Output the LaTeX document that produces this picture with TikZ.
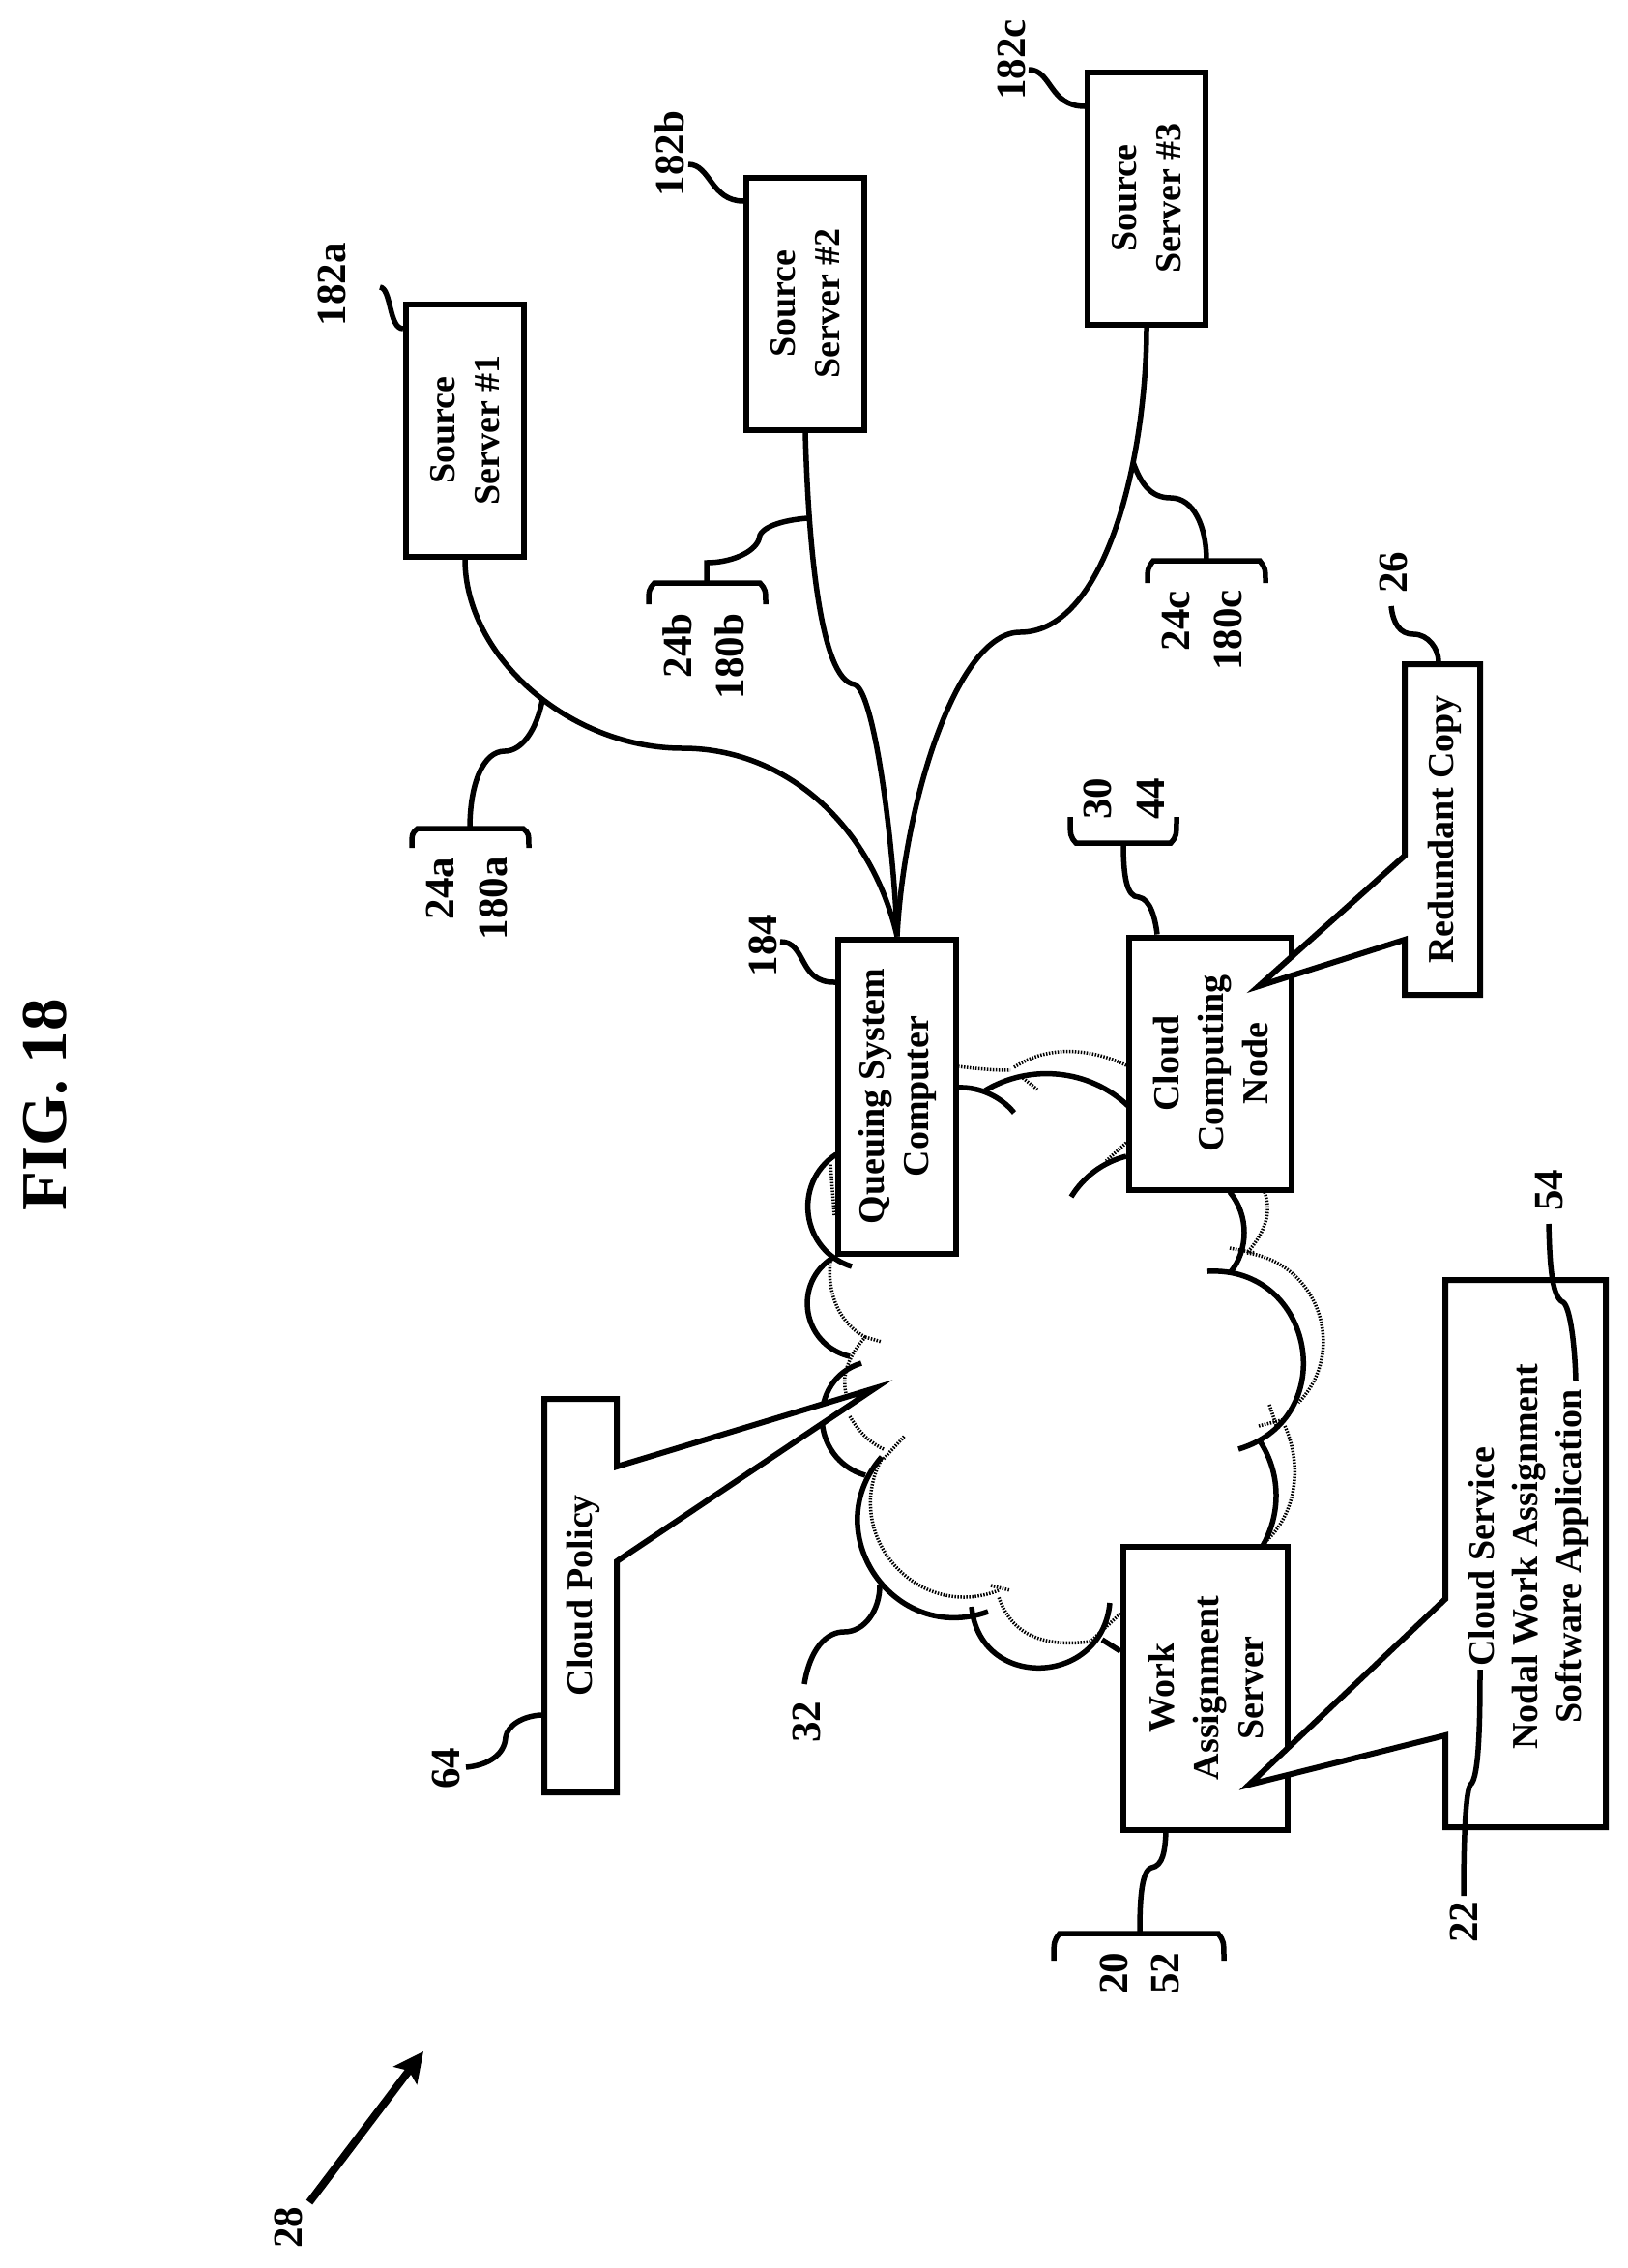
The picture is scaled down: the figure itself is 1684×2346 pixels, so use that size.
\documentclass[tikz,border=0pt]{standalone}
\usepackage{fontspec}
\setmainfont{Liberation Serif}
\usetikzlibrary{arrows.meta}

\tikzstyle{every node}=[align=center]
\tikzstyle{box}=[draw=black,fill=white,line width=6pt,rotate=90,inner sep=0pt,font=\fontsize{38}{46}\selectfont\bfseries]
\tikzstyle{srcbox}=[box,minimum width=261pt,minimum height=122pt]
\tikzstyle{txt}=[rotate=90,inner sep=0pt,font=\fontsize{38}{45}\selectfont\bfseries]
\tikzstyle{num}=[rotate=90,inner sep=0pt,font=\fontsize{43}{46}\selectfont\bfseries]
\tikzstyle{lead}=[line width=5.5pt]
\tikzstyle{talk}=[draw=black,fill=white,line width=6pt,miter limit=20]
\tikzstyle{puff}=[line width=5.5pt]
\tikzstyle{shade}=[line width=3.5pt,dash pattern=on 1.5pt off 1.5pt]

\begin{document}
\begin{tikzpicture}[x=1pt,y=-1pt]
  \useasboundingbox (0,0) rectangle (1684,2346);

  \draw[shade] (991,1103) .. controls (1015,1106) and (1030,1107) .. (1045,1107);
  \draw[shade] (1049,1104) .. controls (1085,1080) and (1130,1085) .. (1165,1102);
  \draw[shade] (1058,1115) -- (1073,1127);
  \draw[shade] (1308,1233) .. controls (1316,1255) and (1308,1275) .. (1290,1296);
  \draw[shade] (1290,1296) .. controls (1364,1307) and (1395,1397) .. (1343,1451);
  \draw[shade] (1272,1291) -- (1298,1296);
  \draw[shade] (1329,1475) .. controls (1345,1510) and (1345,1560) .. (1310,1594);
  \draw[shade] (1313,1453) -- (1321,1477);
  \draw[shade] (1302,1475) -- (1329,1468);
  \draw[shade] (1159,1669) -- (1128,1698);
  \draw[shade] (1128,1698) .. controls (1070,1705) and (1045,1685) .. (1033,1652);
  \draw[shade] (1025,1640) -- (1045,1645);
  \draw[shade] (1033,1645) .. controls (949,1678) and (870,1588) .. (912,1509);
  \draw[shade] (914,1509) -- (936,1485);
  \draw[shade] (914,1499) .. controls (895,1490) and (885,1475) .. (879,1465);
  \draw[shade] (875,1441) .. controls (870,1420) and (880,1400) .. (895,1383);
  \draw[shade] (895,1383) -- (912,1388);
  \draw[shade] (895,1383) .. controls (870,1370) and (855,1340) .. (859,1305);
  \draw[shade] (863,1257) -- (859,1204);
  \draw[shade] (1165,1182) -- (1144,1201);

  \draw[puff] (991,1125) .. controls (1013,1124) and (1035,1134) .. (1049,1151);
  \draw[puff] (1019,1128) .. controls (1066,1100) and (1127,1106) .. (1167,1144);
  \draw[puff] (1165,1196) .. controls (1141,1202) and (1121,1217) .. (1108,1238);
  \draw[puff] (1272,1233) .. controls (1292,1257) and (1292,1293) .. (1272,1317);
  \draw[puff] (1249,1315) .. controls (1360,1309) and (1388,1467) .. (1281,1499);
  \draw[puff] (1304,1492) .. controls (1325,1525) and (1325,1566) .. (1306,1599);
  \draw[puff] (1159,1708) -- (1140,1696);
  \draw[puff] (1148,1658) .. controls (1140,1745) and (1013,1749) .. (1005,1662);
  \draw[puff] (1022,1667) .. controls (925,1702) and (844,1585) .. (912,1507);
  \draw[puff] (895,1526) .. controls (837,1509) and (835,1427) .. (891,1410);
  \draw[puff] (879,1403) .. controls (829,1391) and (819,1326) .. (863,1300);
  \draw[puff] (881,1310) .. controls (829,1294) and (819,1224) .. (865,1194);

  \node[srcbox] (source1) at (481,445) {Source \\ Server \#1};
  \node[srcbox] (source2) at (833,314) {Source \\ Server \#2};
  \node[srcbox] (source3) at (1186,205) {Source \\ Server \#3};
  \node[box,minimum width=325pt,minimum height=122pt] (queuing) at (928,1134) {Queuing System \\ Computer};
  \node[box,minimum width=261pt,minimum height=168pt] (cloudnode) at (1252,1100) {Cloud \\ Computing \\ Node};
  \node[box,minimum width=293pt,minimum height=170pt] (workserver) at (1247,1746) {Work \\ Assignment \\ Server};

  \draw[talk] (1453,687) -- (1531,687) -- (1531,1029) -- (1453,1029) -- (1453,972) -- (1302,1020) -- (1453,885) -- cycle;
  \draw[talk] (563,1447) -- (638,1447) -- (638,1517) -- (905,1436) -- (638,1615) -- (638,1854) -- (563,1854) -- cycle;
  \draw[talk] (1495,1324) -- (1661,1324) -- (1661,1890) -- (1495,1890) -- (1495,1795) -- (1292,1846) -- (1495,1654) -- cycle;

  \node[txt] (copytext) at (1494,858) {Redundant Copy};
  \node[txt] (policytext) at (603,1650) {Cloud Policy};
  \node[txt] (servicetext) at (1581,1610) {Cloud Service \\ Nodal Work Assignment \\ Software Application};

  \node[rotate=90,inner sep=0pt,font=\fontsize{67}{70}\selectfont\bfseries] (figtitle) at (47,1143) {FIG. 18};
  \node[num] (n182a) at (343,294) {182a};
  \node[num] (n182b) at (693,159) {182b};
  \node[num] (n182c) at (1046,62) {182c};
  \node[num] (n24a) at (455,919) {24a};
  \node[num] (n180a) at (510,929) {180a};
  \node[num] (n24b) at (701,668) {24b};
  \node[num] (n180b) at (755,679) {180b};
  \node[num] (n24c) at (1216,642) {24c};
  \node[num] (n180c) at (1270,652) {180c};
  \node[num] (n30) at (1135,826) {30};
  \node[num] (n44) at (1190,826) {44};
  \node[num] (n184) at (789,978) {184};
  \node[num] (n26) at (1441,592) {26};
  \node[num] (n54) at (1603,1231) {54};
  \node[num] (n22) at (1514,1988) {22};
  \node[num] (n20) at (1152,2041) {20};
  \node[num] (n52) at (1205,2041) {52};
  \node[num] (n64) at (461,1829) {64};
  \node[num] (n32) at (834,1781) {32};
  \node[num] (n28) at (298,2304) {28};

  \coordinate (mida) at (706,774);
  \coordinate (midb) at (884,708);
  \coordinate (midc) at (1055,654);
  \draw[lead] (source1.west) .. controls (481,680) and (590,774) .. (mida) .. controls (810,774) and (900,850) .. (queuing.east);
  \draw[lead] (source2.west) .. controls (836,560) and (848,704) .. (midb) .. controls (905,715) and (925,880) .. (queuing.east);
  \draw[lead] (source3.west) .. controls (1186,470) and (1145,654) .. (midc) .. controls (990,654) and (935,830) .. (queuing.east);

  \coordinate (tapa) at (561,724);
  \coordinate (tapb) at (835,536);
  \coordinate (tapc) at (1172,478);
  \coordinate (bracea) at (486,857);
  \coordinate (braceb) at (731,603);
  \coordinate (bracec) at (1248,580);
  \coordinate (braced) at (1162,872);
  \coordinate (bracee) at (1179,2000);
  \draw[lead] (426,877) .. controls (426,862) .. (432,857) -- (541,857) .. controls (547,862) .. (547,877);
  \draw[lead] (671,625) .. controls (671,610) .. (677,603) -- (786,603) .. controls (792,610) .. (792,625);
  \draw[lead] (1187,603) .. controls (1187,588) .. (1193,580) -- (1303,580) .. controls (1309,588) .. (1309,603);
  \draw[lead] (1107,845) .. controls (1107,865) .. (1113,872) -- (1211,872) .. controls (1217,865) .. (1217,845);
  \draw[lead] (1090,2028) .. controls (1090,2008) .. (1096,2000) -- (1260,2000) .. controls (1266,2008) .. (1266,2028);

  \draw[lead] (tapa) .. controls (555,755) and (540,777) .. (522,777) .. controls (500,777) and (486,810) .. (bracea);
  \draw[lead] (tapb) .. controls (810,538) and (785,545) .. (785,558) .. controls (780,572) and (755,582) .. (731,582) -- (braceb);
  \draw[lead] (tapc) .. controls (1180,500) and (1190,515) .. (1211,515) .. controls (1235,515) and (1248,545) .. (bracec);
  \draw[lead] (braced) .. controls (1162,905) and (1165,928) .. (1178,928) .. controls (1190,930) and (1195,950) .. ([xshift=-55pt]cloudnode.east);
  \draw[lead] ([xshift=-41pt]workserver.west) .. controls (1205,1915) and (1203,1930) .. (1191,1932) .. controls (1180,1935) and (1179,1970) .. (bracee);

  \coordinate (wirea) at (393,297);
  \coordinate (wireb) at (712,170);
  \coordinate (wirec) at (1064,72);
  \coordinate (wired) at (807,974);
  \draw[lead] (wirea) .. controls (405,298) and (402,340) .. ([yshift=105pt]source1.north);
  \draw[lead] (wireb) .. controls (735,170) and (735,208) .. ([yshift=106pt]source2.north);
  \draw[lead] (wirec) .. controls (1088,72) and (1085,110) .. ([yshift=95pt]source3.north);
  \draw[lead] (wired) .. controls (835,974) and (825,1017) .. ([yshift=118pt]queuing.north);

  \coordinate (wiree) at (1439,627);
  \coordinate (copytop) at (1488,684);
  \draw[lead] (wiree) .. controls (1441,645) and (1448,656) .. (1462,656) .. controls (1478,656) and (1488,672) .. (copytop);
  \coordinate (wiref) at (482,1828);
  \coordinate (policyleft) at (560,1774);
  \draw[lead] (wiref) .. controls (505,1826) and (522,1815) .. (523,1797) .. controls (525,1785) and (540,1775) .. (policyleft);
  \coordinate (wireg) at (1602,1266);
  \coordinate (wireh) at (1630,1428);
  \draw[lead] (wireg) .. controls (1603,1300) and (1604,1342) .. (1617,1347) .. controls (1624,1352) and (1629,1390) .. (wireh);
  \coordinate (wirei) at (1531,1727);
  \coordinate (wirej) at (1514,1961);
  \draw[lead] (wirei) .. controls (1531,1780) and (1530,1840) .. (1521,1846) .. controls (1515,1855) and (1514,1920) .. (wirej);
  \coordinate (wirek) at (832,1742);
  \coordinate (wirel) at (910,1640);
  \draw[lead] (wirek) .. controls (838,1705) and (855,1688) .. (873,1688) .. controls (895,1688) and (910,1665) .. (wirel);

  \coordinate (arrowstart) at (320,2278);
  \coordinate (arrowtip) at (438,2122);
  \draw[line width=8pt,-{Stealth[length=31pt,width=30pt,inset=6pt]}] (arrowstart) -- (arrowtip);
\end{tikzpicture}
\end{document}
